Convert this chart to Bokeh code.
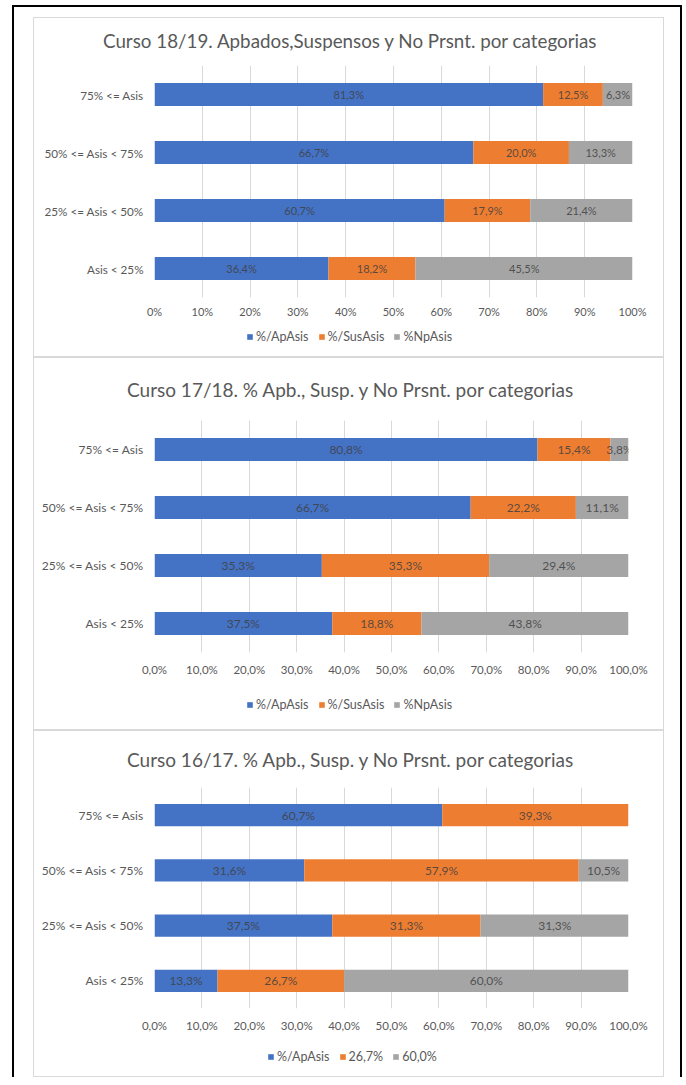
from bokeh.plotting import figure
from bokeh.models import ColumnDataSource, Range1d, FixedTicker, Legend, LegendItem, Div
from bokeh.layouts import column
from bokeh.core.properties import value
from bokeh.embed import file_html
from bokeh.resources import INLINE

# ---------------- data ----------------
categories = ["Asis < 25%", "25% <= Asis < 50%", "50% <= Asis < 75%", "75% <= Asis"]

ap_1819 = [36.4, 60.7, 66.7, 81.3]
sus_1819 = [18.2, 17.9, 20.0, 12.5]
np_1819 = [45.5, 21.4, 13.3, 6.3]

ap_1718 = [37.5, 35.3, 66.7, 80.8]
sus_1718 = [18.8, 35.3, 22.2, 15.4]
np_1718 = [43.8, 29.4, 11.1, 3.8]

ap_1617 = [13.3, 37.5, 31.6, 60.7]
sus_1617 = [26.7, 31.3, 57.9, 39.3]
np_1617 = [60.0, 31.3, 10.5, 0.0]

title_1819 = "Curso 18/19. Apbados,Suspensos y No Prsnt. por categorias"
title_1718 = "Curso 17/18. % Apb., Susp. y No Prsnt. por categorias"
title_1617 = "Curso 16/17. % Apb., Susp. y No Prsnt. por categorias"

legend_1819 = ["%/ApAsis", "%/SusAsis", "%NpAsis"]
legend_1718 = ["%/ApAsis", "%/SusAsis", "%NpAsis"]
legend_1617 = ["%/ApAsis", "26,7%", "60,0%"]

tick_values = [0, 10, 20, 30, 40, 50, 60, 70, 80, 90, 100]
tick_labels_int = ["0%", "10%", "20%", "30%", "40%", "50%", "60%", "70%", "80%", "90%", "100%"]
tick_labels_dec = ["0,0%", "10,0%", "20,0%", "30,0%", "40,0%", "50,0%", "60,0%",
                   "70,0%", "80,0%", "90,0%", "100,0%"]

colors = ["#4472C4", "#ED7D31", "#A5A5A5"]
FONT = "Lato"
TXT = "#595959"
STACK = ["ap", "sus", "npr"]


def fmt(v):
    return ("%.1f" % v).replace(".", ",") + "%"


def make_panel(ap, sus, npr, title, leg_labels, tick_labels, title_margin, title_h, chart_h,
               leg_h, mb_top, mb_bottom, mb_right, title_size, lab_size, tick_size,
               tick_standoff, data_size, leg_loc, top_margin):
    src = ColumnDataSource(dict(cat=categories, ap=ap, sus=sus, npr=npr))

    # title
    span = ('<span style="display:block;font-family:Lato;font-size:%spx;color:%s;'
            'line-height:23px;white-space:nowrap;">%s</span>') % (title_size, TXT, title)
    tdiv = Div(text=span, width=629 - title_margin[1], height=title_h,
               margin=(title_margin[0], 0, 0, title_margin[1]),
               styles={"font-family": "Lato", "font-size": "%spx" % title_size,
                       "color": TXT, "white-space": "nowrap"})

    # chart
    p = figure(width=629, height=chart_h, y_range=categories, x_range=Range1d(0, 100),
               output_backend="svg", toolbar_location=None,
               min_border_left=120, min_border_right=mb_right,
               min_border_top=mb_top, min_border_bottom=mb_bottom,
               background_fill_color="white", border_fill_color="white")
    p.outline_line_color = None
    p.hbar_stack(STACK, y="cat", height=0.4, color=colors, line_color=None, source=src)

    xs, ys, ts = [], [], []
    for i, c in enumerate(categories):
        left = 0.0
        for v in (ap[i], sus[i], npr[i]):
            if v > 0:
                xs.append(left + v / 2.0)
                ys.append(c)
                ts.append(fmt(v))
            left += v
    lsrc = ColumnDataSource(dict(x=xs, y=ys, t=ts))
    p.text(x="x", y="y", text="t", source=lsrc, text_align="center",
           text_baseline="middle", text_font=value(FONT),
           text_font_size="%spx" % data_size, text_color="#404040", text_alpha=0.85)

    p.xaxis.ticker = FixedTicker(ticks=tick_values)
    p.xaxis.major_label_overrides = {t: l for t, l in zip(tick_values, tick_labels)}
    for ax in (p.xaxis[0], p.yaxis[0]):
        ax.axis_line_color = None
        ax.major_tick_line_color = None
        ax.minor_tick_line_color = None
        ax.major_tick_out = 0
        ax.major_tick_in = 0
        ax.minor_tick_out = 0
        ax.major_label_text_font = FONT
        ax.major_label_text_color = TXT
    p.xaxis.major_label_text_font_size = "%spx" % tick_size
    p.yaxis.major_label_text_font_size = "%spx" % lab_size
    p.xaxis.major_label_standoff = tick_standoff
    p.yaxis.major_label_standoff = 11
    p.ygrid.grid_line_color = None
    p.xgrid.grid_line_color = "#D9D9D9"
    p.xgrid.ticker = FixedTicker(ticks=tick_values)
    p.y_range.range_padding = 0

    # legend strip (same series, hidden swatch renderers)
    lf = figure(width=629, height=leg_h, y_range=categories, x_range=Range1d(0, 100),
                output_backend="svg", toolbar_location=None,
                x_axis_location=None, y_axis_location=None,
                min_border=0, background_fill_color="white", border_fill_color="white")
    lf.outline_line_color = None
    lf.grid.grid_line_color = None
    lrs = lf.hbar_stack(STACK, y="cat", height=0.4, color=colors, line_color=None,
                        source=src)
    for r in lrs:
        r.visible = False
    leg = Legend(items=[LegendItem(label=l, renderers=[r]) for l, r in zip(leg_labels, lrs)],
                 orientation="horizontal", location=leg_loc,
                 glyph_width=7, glyph_height=7, label_standoff=3, spacing=9,
                 label_height=12, padding=0, margin=0, border_line_color=None,
                 background_fill_alpha=0, inactive_fill_alpha=0,
                 label_text_font=FONT, label_text_font_size="12.5px",
                 label_text_color=TXT)
    lf.add_layout(leg)

    return column(tdiv, p, lf, margin=(top_margin, 0, 0, 19),
                  styles={"border": "1px solid #D9D9D9", "background-color": "white"})


panel1 = make_panel(ap_1819, sus_1819, np_1819, title_1819, legend_1819, tick_labels_int,
                    title_margin=(10, 69), title_h=27, chart_h=267, leg_h=34,
                    mb_top=10, mb_bottom=25, mb_right=31, title_size=18.8, lab_size=11.7,
                    tick_size=11, tick_standoff=7, data_size=11, leg_loc=(92, 12),
                    top_margin=10)
panel2 = make_panel(ap_1718, sus_1718, np_1718, title_1718, legend_1718, tick_labels_dec,
                    title_margin=(18, 93), title_h=29, chart_h=277, leg_h=47,
                    mb_top=15, mb_bottom=30, mb_right=35, title_size=19, lab_size=12,
                    tick_size=11.5, tick_standoff=10, data_size=12, leg_loc=(92, 17),
                    top_margin=0)
panel3 = make_panel(ap_1617, sus_1617, np_1617, title_1617, legend_1617, tick_labels_dec,
                    title_margin=(15, 93), title_h=29, chart_h=263, leg_h=38,
                    mb_top=12, mb_bottom=30, mb_right=35, title_size=19, lab_size=12,
                    tick_size=11.5, tick_standoff=10, data_size=12, leg_loc=(113, 12),
                    top_margin=0)

layout = column(panel1, panel2, panel3, margin=(5, 0, 0, 12),
                styles={"border-left": "2px solid black", "border-right": "2px solid black",
                        "border-top": "2px solid black", "padding-right": "16px",
                        "background-color": "white"})

with open("out.html", "w") as f:
    f.write(file_html(layout, INLINE))
